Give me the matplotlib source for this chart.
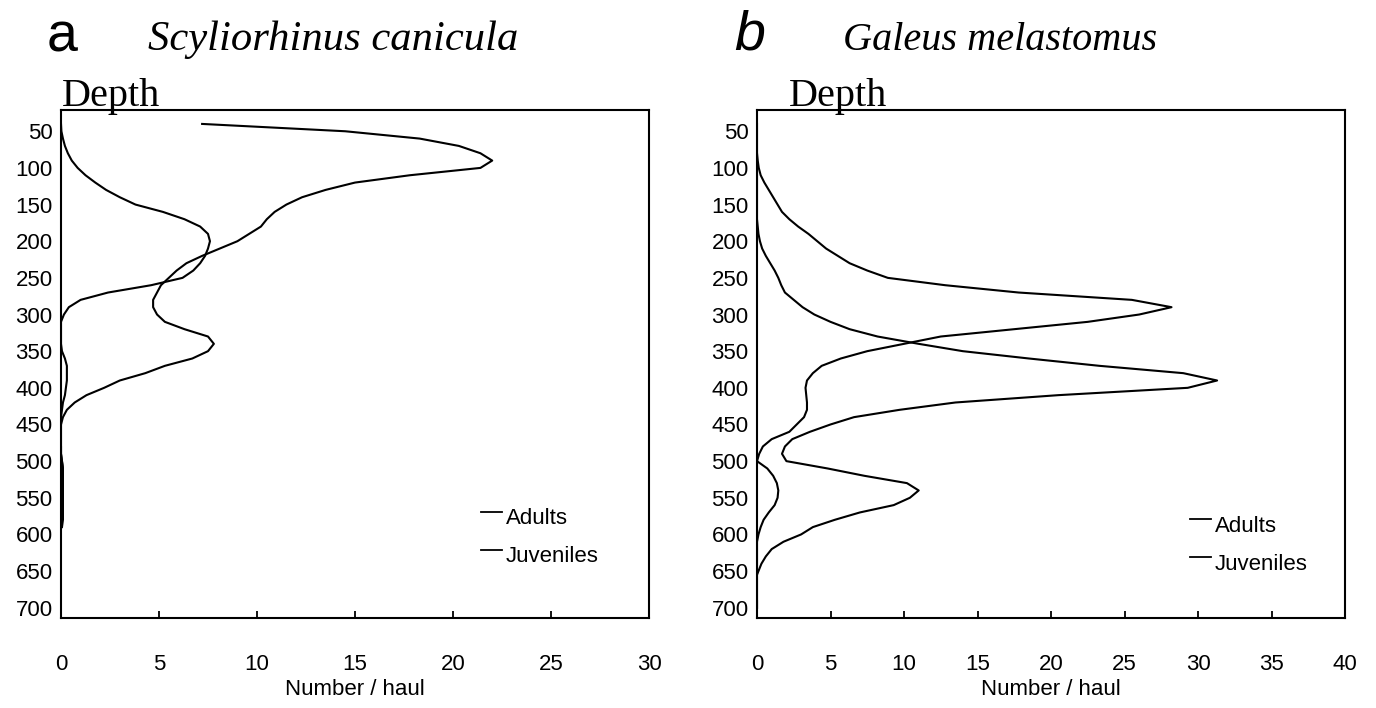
import matplotlib
matplotlib.use("Agg")
import matplotlib.pyplot as plt
from matplotlib.lines import Line2D

# depth classes (m)
depth_a = list(range(40, 600, 10))
depth_b = list(range(40, 710, 10))

# Scyliorhinus canicula, number / haul
sc_adults = [7.2, 14.5, 18.3, 20.3, 21.4, 22.0, 21.4, 17.8, 15.0, 13.5,
             12.3, 11.5, 10.9, 10.5, 10.2, 9.6, 9.0, 8.1, 7.2, 6.4,
             5.9, 5.5, 5.1, 4.9, 4.7, 4.7, 4.9, 5.3, 6.3, 7.5,
             7.8, 7.5, 6.7, 5.3, 4.3, 3.0, 2.2, 1.3, 0.7, 0.3,
             0.1, 0.0, -0.15, -0.05, 0.0, 0.0, 0.05, 0.1, 0.1, 0.1,
             0.1, 0.1, 0.1, 0.1, 0.1, 0.05]
sc_juveniles = [0.0, 0.02, 0.1, 0.2, 0.35, 0.55, 0.85, 1.25, 1.75, 2.3,
                3.0, 3.8, 5.2, 6.3, 7.1, 7.5, 7.6, 7.5, 7.35, 7.1,
                6.75, 6.2, 4.6, 2.4, 1.0, 0.4, 0.15, 0.0, 0.0, 0.0,
                0.0, 0.05, 0.2, 0.3, 0.3, 0.3, 0.25, 0.2, 0.1, 0.05,
                0.0, 0.0, 0.0, 0.0, 0.0, 0.0, 0.05, 0.1, 0.1, 0.1,
                0.1, 0.1, 0.1, 0.1, 0.05, 0.0]

# Galeus melastomus, number / haul
gm_juveniles = [-0.1, -0.1, -0.08, -0.05, 0.0, 0.05, 0.12, 0.25, 0.5, 0.8,
                1.1, 1.4, 1.7, 2.2, 2.8, 3.5, 4.1, 4.7, 5.5, 6.3,
                7.5, 8.9, 12.8, 17.8, 25.5, 28.2, 26.0, 22.5, 17.5, 12.5,
                10.0, 7.5, 5.7, 4.4, 3.8, 3.4, 3.3, 3.35, 3.4, 3.4,
                3.2, 2.7, 2.2, 1.0, 0.4, 0.15, 0.0, 0.7, 1.1, 1.35,
                1.45, 1.4, 1.2, 0.8, 0.45, 0.25, 0.1, 0.0, 0.0, 0.0,
                0.0, 0.0, 0.0, 0.0, 0.0, 0.0, 0.0]
gm_adults = [0.0, 0.0, 0.0, 0.0, 0.0, 0.0, 0.0, 0.0, 0.0, 0.0,
             0.0, 0.0, 0.0, 0.0, 0.05, 0.1, 0.2, 0.35, 0.6, 0.9,
             1.2, 1.45, 1.65, 1.9, 2.5, 3.1, 3.9, 5.0, 6.3, 8.2,
             11.0, 14.0, 18.5, 23.3, 29.0, 31.3, 29.3, 20.5, 13.5, 9.7,
             6.6, 5.0, 3.6, 2.4, 1.9, 1.7, 2.0, 4.8, 7.3, 10.2,
             11.0, 10.4, 9.3, 7.0, 5.3, 3.8, 3.0, 1.8, 1.0, 0.6,
             0.3, 0.1, -0.1, -0.15, -0.1, 0.0, 0.0]

depth_ticks = list(range(50, 701, 50))

SANS = "Liberation Sans"
SERIF = "Liberation Serif"
W, H = 1376, 708

fig = plt.figure(figsize=(13.76, 7.08), dpi=100)


def px(x0, y0, x1, y1):
    return [x0 / W, 1 - y1 / H, (x1 - x0) / W, (y1 - y0) / H]


def panel(rect, xmax, xstep, series, depths, leg_xy):
    ax = fig.add_axes(rect)
    for vals in series:
        ax.plot(vals, depths, color="black", lw=1.5, solid_joinstyle="round")
    ax.set_xlim(0, xmax)
    ax.set_ylim(714, 21)
    ax.set_xticks(range(0, xmax + 1, xstep))
    ax.set_yticks(depth_ticks)
    ax.tick_params(axis="x", direction="in", length=5, width=1.3, pad=26,
                   labelsize=16)
    ax.tick_params(axis="y", length=0, pad=6, labelsize=16)
    for lab in ax.get_xticklabels() + ax.get_yticklabels():
        lab.set_fontfamily(SANS)
    for s in ax.spines.values():
        s.set_linewidth(1.5)
    ax.set_xlabel("Number / haul", fontsize=16, family=SANS, labelpad=3)
    # legend
    lx, ly = leg_xy
    for i, name in enumerate(["Adults", "Juveniles"]):
        yy = ly + i * 38
        fig.add_artist(Line2D([lx / W, (lx + 21) / W],
                              [1 - yy / H, 1 - yy / H],
                              color="black", lw=1.3))
        fig.text((lx + 25) / W, 1 - (yy + 7) / H, name, fontsize=16,
                 family=SANS, va="center", ha="left")
    return ax


ax_a = panel(px(61, 110, 649, 618), 30, 5, [sc_adults, sc_juveniles],
             depth_a, (481, 512))
ax_b = panel(px(757, 110, 1345, 618), 40, 5, [gm_adults, gm_juveniles],
             depth_b, (1190, 519))

# panel headings
fig.text(47 / W, 1 - 52 / H, "a", fontsize=40, family=SANS, va="baseline")
fig.text(148 / W, 1 - 50 / H, "Scyliorhinus canicula", fontsize=30.7,
         family=SERIF, style="italic", va="baseline")
fig.text(734 / W, 1 - 50 / H, "b", fontsize=40, family=SANS,
         style="italic", va="baseline")
fig.text(843 / W, 1 - 50 / H, "Galeus melastomus", fontsize=29,
         family=SERIF, style="italic", va="baseline")
fig.text(62 / W, 1 - 106 / H, "Depth", fontsize=29, family=SERIF,
         va="baseline")
fig.text(789 / W, 1 - 106 / H, "Depth", fontsize=29, family=SERIF,
         va="baseline")

fig.savefig("out.png", dpi=100, facecolor="white")
